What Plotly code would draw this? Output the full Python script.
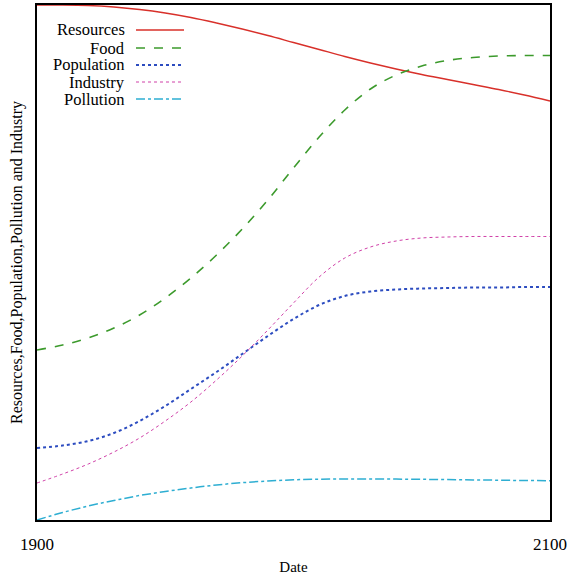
import plotly.graph_objects as go

years = list(range(1900, 2101, 10))

# heights (arbitrary units, axis 0..515)
resources = [515, 515, 514.5, 513, 510.5, 507, 502.5, 497, 491, 484.5, 477.5, 470.5, 463.5, 457, 451, 445.5, 440.5, 435.5, 430.5, 425, 419]
food = [170, 175, 182, 192, 205, 222, 242, 265, 291, 320, 352, 383, 410, 431, 445, 454, 459.5, 462.5, 464, 464.5, 464.5]
population = [72, 74.5, 79, 87, 99, 114, 131, 148, 166, 184, 201, 215, 224, 228.5, 230.5, 231.5, 232, 232.5, 232.5, 233, 233]
industry = [37, 46, 56, 68, 82, 99, 118, 140, 164, 190, 217, 243, 262, 273, 279, 282, 283, 283.5, 283.5, 283.5, 283.5]
pollution = [0, 7.5, 14, 19.5, 24.5, 28.5, 32, 35, 37.3, 39, 40.2, 40.8, 41, 41, 40.9, 40.7, 40.4, 40.1, 39.8, 39.5, 39.3]

series = [
    ("Resources", resources, "#d8302a", "solid", 1.4),
    ("Food", food, "#3c9a2c", "dash", 1.6),
    ("Population", population, "#2c4cc0", "dot", 2.0),
    ("Industry", industry, "#d040a8", "dot", 1.0),
    ("Pollution", pollution, "#2eaed2", "dashdot", 1.5),
]

FONT = "Liberation Serif, Times New Roman, serif"

fig = go.Figure()
for name, vals, color, dash, w in series:
    fig.add_trace(go.Scatter(x=years, y=vals, mode="lines", name=name,
                             line=dict(color=color, dash=dash, width=w, shape="spline", smoothing=1.0),
                             showlegend=False, hoverinfo="skip"))

# manual legend: text right-aligned, line sample to the right
leg_y = [30, 48, 65, 82, 99]
for (name, vals, color, dash, w), py in zip(series, leg_y):
    fig.add_annotation(xref="paper", yref="paper", x=(126 - 37) / 513, y=(520 - py) / 515,
                       text=name, showarrow=False, xanchor="right", yanchor="middle",
                       borderpad=0,
                       font=dict(family=FONT, size=16.5, color="black"))
    fig.add_shape(type="line", xref="paper", yref="paper",
                  x0=(136 - 37) / 513, x1=(184 - 37) / 513,
                  y0=(520 - py) / 515, y1=(520 - py) / 515,
                  line=dict(color=color, dash=dash, width=w))

fig.update_layout(
    width=577, height=575,
    margin=dict(l=37, r=27, t=5, b=55, autoexpand=False),
    paper_bgcolor="white", plot_bgcolor="white",
    font=dict(family=FONT, color="black"),
    showlegend=False,
)
fig.update_xaxes(range=[1900, 2100], tickvals=[1900, 2100], ticktext=["1900", "2100"],
                 showgrid=False, zeroline=False, showline=True, mirror=True,
                 linecolor="black", linewidth=2, ticks="", ticklabelstandoff=8,
                 tickfont=dict(family=FONT, size=17), automargin=False,
                 title=dict(text="Date", font=dict(family=FONT, size=15), standoff=12))
fig.update_yaxes(range=[0, 515], showticklabels=False, showgrid=False, zeroline=False,
                 showline=True, mirror=True, linecolor="black", linewidth=2, ticks="",
                 automargin=False,
                 title=dict(text="Resources,Food,Population,Pollution and Industry",
                            font=dict(family=FONT, size=16), standoff=8))

fig.write_html("out.html", config={"displayModeBar": False},
               post_script="document.body.style.margin='0';")
